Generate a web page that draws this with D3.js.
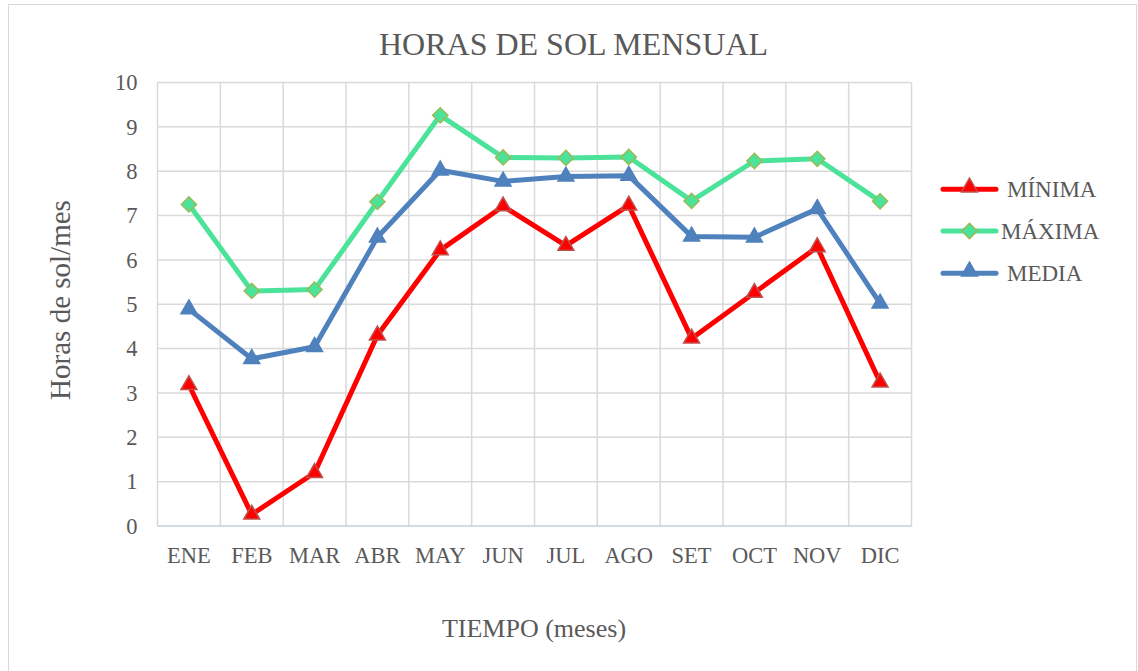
<!DOCTYPE html>
<html><head><meta charset="utf-8">
<script src="https://cdn.jsdelivr.net/npm/d3@7"></script>
<style>body{margin:0;background:#fff}svg{display:block}</style>
</head><body><svg id="c" width="1138" height="671"></svg>
<script>
const months = ["ENE","FEB","MAR","ABR","MAY","JUN","JUL","AGO","SET","OCT","NOV","DIC"];
const minima = [3.18,0.26,1.20,4.30,6.22,7.21,6.32,7.23,4.23,5.26,6.29,3.24];
const maxima = [7.25,5.30,5.33,7.31,9.26,8.31,8.30,8.32,7.33,8.23,8.28,7.32];
const media  = [4.89,3.77,4.04,6.51,8.02,7.77,7.88,7.90,6.53,6.51,7.15,5.02];
const yTicks = [0,1,2,3,4,5,6,7,8,9,10];
const seriesNames = ["MÍNIMA","MÁXIMA","MEDIA"];

const svg = d3.select("#c");
const font = "'Liberation Serif','Times New Roman',serif";
const grey = "#595959";
const L=157.5, R=911.5, T=82.5, B=526;

svg.append("rect").attr("x",8.5).attr("y",4.5).attr("width",1128).attr("height",700)
  .attr("fill","#fff").attr("stroke","#d9d9d9").attr("stroke-width",1);

const x = d3.scaleBand().domain(months).range([L,R]).paddingInner(0).paddingOuter(0);
const y = d3.scaleLinear().domain([0,10]).range([B,T]);

// grid
const g = svg.append("g");
g.selectAll(".hg").data(yTicks.filter(d=>d>0)).join("line")
  .attr("x1",L).attr("x2",R).attr("y1",d=>y(d)).attr("y2",d=>y(d))
  .attr("stroke","#d9d9d9").attr("stroke-width",1.5);
const bounds = months.map(m=>x(m)).concat([R]);
g.selectAll(".vg").data(bounds).join("line")
  .attr("x1",d=>d).attr("x2",d=>d).attr("y1",T).attr("y2",B)
  .attr("stroke","#d9d9d9").attr("stroke-width",1.5);
g.append("line").attr("x1",L).attr("x2",R).attr("y1",B).attr("y2",B)
  .attr("stroke","#c3d0e0").attr("stroke-width",1.5);

// axes labels
const yAxis = d3.axisLeft(y).tickValues(yTicks).tickSize(0).tickPadding(20);
const ya = svg.append("g").attr("transform",`translate(${L},0)`).call(yAxis);
ya.select(".domain").remove();
ya.selectAll("text").attr("font-family",font).attr("font-size",22.5).attr("fill",grey);

const xAxis = d3.axisBottom(x).tickSize(0).tickPadding(21);
const xa = svg.append("g").attr("transform",`translate(0,${B})`).call(xAxis);
xa.select(".domain").remove();
xa.selectAll("text").attr("font-family",font).attr("font-size",22.5).attr("fill",grey);

// titles
svg.append("text").attr("x",573.5).attr("y",54.5).attr("text-anchor","middle")
  .attr("font-family",font).attr("font-size",32).attr("fill",grey).text("HORAS DE SOL MENSUAL");
svg.append("text").attr("transform","translate(70,300) rotate(-90)").attr("text-anchor","middle")
  .attr("font-family",font).attr("font-size",29).attr("fill",grey).text("Horas de sol/mes");
svg.append("text").attr("x",534).attr("y",637).attr("text-anchor","middle")
  .attr("font-family",font).attr("font-size",26).attr("fill",grey).text("TIEMPO (meses)");

const cx = m => x(m)+x.bandwidth()/2;
const line = d3.line().x((d,i)=>cx(months[i])).y(d=>y(d));
const tri = d3.symbol().type(d3.symbolTriangle).size(110);
const sq = d3.symbol().type(d3.symbolSquare).size(115);

const series = [
  {name:seriesNames[0], data:minima, color:"#ff0000", fill:"#ff0000", stroke:"#c0504d", sym:"tri"},
  {name:seriesNames[1], data:maxima, color:"#4be29a", fill:"#4be29a", stroke:"#9bbb59", sym:"dia"},
  {name:seriesNames[2], data:media, color:"#4f81bd", fill:"#4f81bd", stroke:"#4f81bd", sym:"tri"}
];
[series[2],series[1],series[0]].forEach(s=>{
  svg.append("path").datum(s.data).attr("d",line).attr("fill","none")
    .attr("stroke",s.color).attr("stroke-width",5).attr("stroke-linejoin","round").attr("stroke-linecap","round");
  svg.selectAll(null).data(s.data).join("path")
    .attr("transform",(d,i)=>`translate(${cx(months[i])},${y(d)})`+(s.sym==="dia"?" rotate(45)":""))
    .attr("d", s.sym==="tri" ? tri() : sq())
    .attr("fill",s.fill).attr("stroke",s.stroke).attr("stroke-width",1.5);
});

// legend
const ly = [189.3,231,273.3];
const lx = [1007,1001,1007];
series.forEach((s,i)=>{
  const lg = svg.append("g");
  lg.append("line").attr("x1",943).attr("x2",996).attr("y1",ly[i]).attr("y2",ly[i])
    .attr("stroke",s.color).attr("stroke-width",5).attr("stroke-linecap","round");
  lg.append("path").attr("transform",`translate(969.5,${ly[i]-(s.sym==="tri"?2:0)})`+(s.sym==="dia"?" rotate(45)":""))
    .attr("d", s.sym==="tri" ? tri() : sq())
    .attr("fill",s.fill).attr("stroke",s.stroke).attr("stroke-width",1.5);
  lg.append("text").attr("x",lx[i]).attr("y",ly[i]+7.5).attr("font-family",font)
    .attr("font-size",23).attr("fill",grey).text(s.name);
});
</script></body></html>
